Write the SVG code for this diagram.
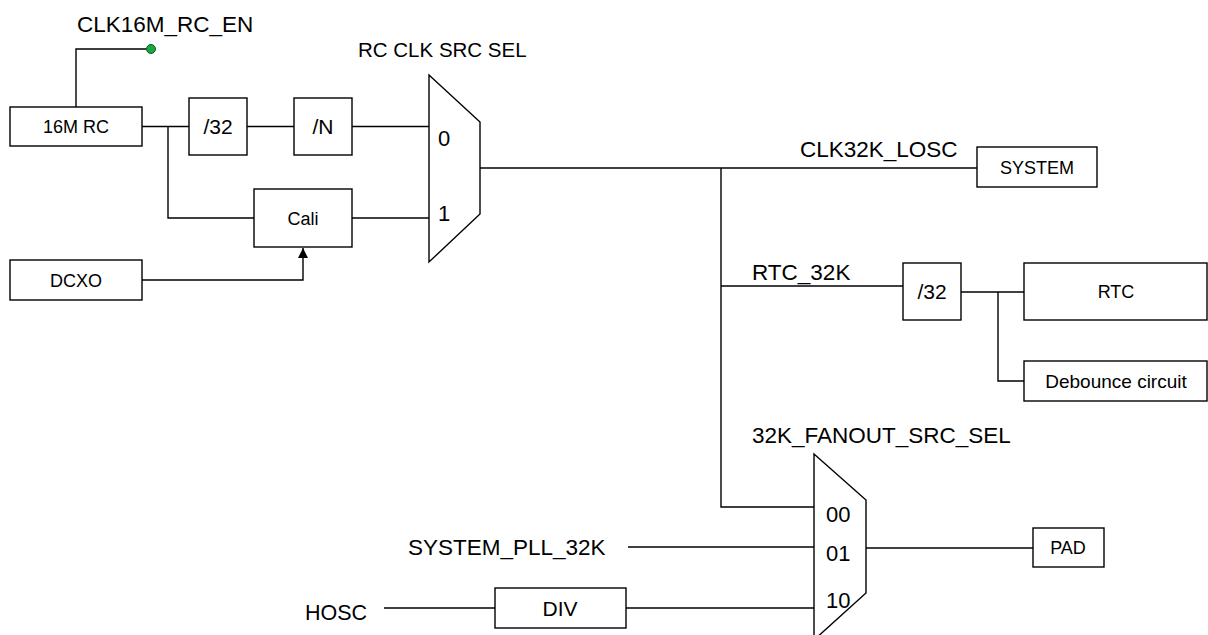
<svg xmlns="http://www.w3.org/2000/svg" width="1208" height="635" viewBox="0 0 1208 635">
<defs>
<style>
.box{fill:#fff;stroke:#000;stroke-width:1.4}
.w{fill:none;stroke:#000;stroke-width:1.4}
.mux{fill:#fff;stroke:#000;stroke-width:1.4}
text{font-family:"Liberation Sans",Arial,sans-serif;fill:#000}
.bt{font-size:18px;text-anchor:middle}
.bt2{font-size:21px;text-anchor:middle}
.lbl{font-size:22.5px}
.pin{font-size:22px}
</style>
<marker id="arr" viewBox="0 0 10 10" refX="10" refY="5" markerWidth="10" markerHeight="10" markerUnits="userSpaceOnUse" orient="auto">
<path d="M0,0 L10,5 L0,10 z" fill="#000"/>
</marker>
</defs>
<rect width="1208" height="635" fill="#fff"/>
<g id="connectors">
<polyline class="w" points="151,49 76,49 76,107"/>
<line class="w" x1="142" y1="126.5" x2="189" y2="126.5"/>
<polyline class="w" points="168,126.5 168,218 254,218"/>
<line class="w" x1="247" y1="126.5" x2="294" y2="126.5"/>
<line class="w" x1="352" y1="126.5" x2="429" y2="126.5"/>
<line class="w" x1="352" y1="218" x2="429" y2="218"/>
<polyline class="w" points="142,280 303,280 303,248" marker-end="url(#arr)"/>
<line class="w" x1="480" y1="168" x2="977" y2="168"/>
<polyline class="w" points="721,168 721,507 814,507"/>
<line class="w" x1="721" y1="286" x2="903" y2="286"/>
<line class="w" x1="961" y1="292" x2="1024" y2="292"/>
<polyline class="w" points="998,292 998,381 1024,381"/>
<line class="w" x1="628" y1="547" x2="814" y2="547"/>
<line class="w" x1="384" y1="608" x2="495" y2="608"/>
<line class="w" x1="626" y1="608" x2="814" y2="608"/>
<line class="w" x1="866" y1="548" x2="1033" y2="548"/>
</g>
<g id="en-pin">
<circle cx="151" cy="49" r="4.5" fill="#1aa640" stroke="#0a5a20" stroke-width="1"/>
<text class="lbl" x="77" y="32">CLK16M_RC_EN</text>
</g>
<g id="rc16m"><rect class="box" x="10" y="107" width="132" height="39"/><text class="bt" x="76" y="133">16M RC</text></g>
<g id="div32a"><rect class="box" x="189" y="98" width="58" height="57"/><text class="bt2" x="218" y="134">/32</text></g>
<g id="divN"><rect class="box" x="294" y="98" width="58" height="57"/><text class="bt2" x="323" y="134">/N</text></g>
<g id="cali"><rect class="box" x="254" y="189" width="98" height="58"/><text class="bt" x="303" y="224.5">Cali</text></g>
<g id="dcxo"><rect class="box" x="10" y="260" width="132" height="40"/><text class="bt" x="76" y="286.5">DCXO</text></g>
<g id="mux1">
<polygon class="mux" points="429,75 480,122 480,214 429,262"/>
<text class="pin" x="438" y="146">0</text>
<text class="pin" x="438" y="221">1</text>
<text x="358" y="57" style="font-size:20.5px">RC CLK SRC SEL</text>
</g>
<g id="clk32k-label"><text class="lbl" x="800" y="157">CLK32K_LOSC</text></g>
<g id="system"><rect class="box" x="977" y="147" width="120" height="40"/><text class="bt" x="1037" y="173.5">SYSTEM</text></g>
<g id="rtc32k-label"><text class="lbl" x="752" y="280">RTC_32K</text></g>
<g id="div32b"><rect class="box" x="903" y="263" width="58" height="57"/><text class="bt2" x="932" y="299">/32</text></g>
<g id="rtc"><rect class="box" x="1024" y="263" width="183" height="57"/><text class="bt" x="1116" y="298">RTC</text></g>
<g id="debounce"><rect class="box" x="1024" y="361" width="183" height="40"/><text class="bt" x="1116" y="388" style="font-size:19px">Debounce circuit</text></g>
<g id="mux2">
<polygon class="mux" points="814,454 866,500 866,593 814,640"/>
<text class="pin" x="826" y="522">00</text>
<text class="pin" x="826" y="561">01</text>
<text class="pin" x="826" y="608">10</text>
<text class="lbl" x="752" y="443">32K_FANOUT_SRC_SEL</text>
</g>
<g id="pad"><rect class="box" x="1033" y="528" width="71" height="39"/><text class="bt" x="1068" y="554">PAD</text></g>
<g id="pll-label"><text class="lbl" x="408" y="555">SYSTEM_PLL_32K</text></g>
<g id="hosc-label"><text class="lbl" x="305" y="620" style="font-size:21.5px">HOSC</text></g>
<g id="div"><rect class="box" x="495" y="588" width="131" height="40"/><text class="bt2" x="560" y="615.5">DIV</text></g>
</svg>
